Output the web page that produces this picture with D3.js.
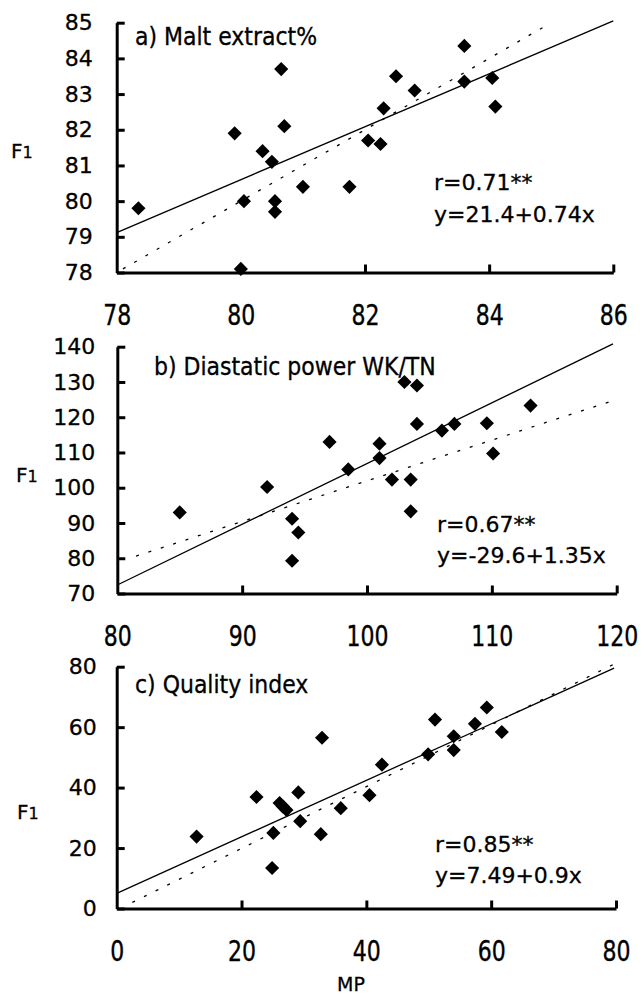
<!DOCTYPE html>
<html lang="en">
<head>
<meta charset="UTF-8">
<title>F1 vs MP</title>
<script src="https://cdn.jsdelivr.net/npm/d3@7"></script>
<style>
  body { margin: 0; background: #fff; }
  svg text { font-family: "DejaVu Sans", sans-serif; fill: #000; stroke: #000; stroke-width: 0.3px; }
</style>
</head>
<body>
<script>
// a) malt extract %
const maltX = [78.35, 79.9, 80.0, 80.05, 80.35, 80.5, 80.55, 80.55, 80.65, 80.7, 81.0, 81.75, 82.05, 82.25, 82.3, 82.5, 82.8, 83.6, 83.6, 84.05, 84.1];
const maltY = [79.8, 81.9, 78.1, 80.0, 81.4, 81.1, 80.0, 79.7, 83.7, 82.1, 80.4, 80.4, 81.7, 81.6, 82.6, 83.5, 83.1, 84.35, 83.35, 83.45, 82.65];
const maltXTicks = [78, 80, 82, 84, 86];
const maltYTicks = [78, 79, 80, 81, 82, 83, 84, 85];
const maltFit = [[78, 79.12], [86, 85.05]];
const maltOneToOne = [[78.1, 78.1], [85, 85]];

// b) diastatic power
const dpX = [85, 92, 94, 94.5, 94, 97, 98.5, 101, 101, 102, 103, 103.5, 103.5, 104, 104, 106, 107, 109.6, 110.1, 113.1];
const dpY = [93, 100.2, 91.2, 87.3, 79.3, 113, 105.2, 112.5, 108.4, 102.3, 130, 102.3, 93.3, 129, 118.1, 116.2, 118.1, 118.3, 109.7, 123.3];
const dpXTicks = [80, 90, 100, 110, 120];
const dpYTicks = [70, 80, 90, 100, 110, 120, 130, 140];
const dpFit = [[80, 72.4], [119.7, 140.8]];
const dpDotted = [[81.5, 80.6], [119.7, 124.7]];

// c) quality index
const qiX = [12.8, 22.4, 25.1, 24.9, 26.1, 26.6, 27.2, 29.1, 29.4, 32.9, 32.7, 35.9, 40.5, 42.5, 49.9, 51.0, 54.0, 54.0, 57.4, 59.3, 61.7];
const qiY = [23.8, 36.9, 25.0, 13.4, 34.9, 33.8, 32.6, 38.4, 28.9, 56.5, 24.6, 33.2, 37.5, 47.6, 51.0, 62.5, 52.4, 57.0, 61.1, 66.5, 58.4];
const qiXTicks = [0, 20, 40, 60, 80];
const qiYTicks = [0, 20, 40, 60, 80];
const qiFit = [[0, 5], [79.7, 79.5]];
const qiDotted = [[2.5, 2], [80.3, 81.5]];

const panels = [
  { xs: maltX, ys: maltY, xt: maltXTicks, yt: maltYTicks, fit: maltFit, dot: maltOneToOne,
    title: 'a) Malt extract%', r: 'r=0.71**', eq: 'y=21.4+0.74x',
    left: 116.7, right: 613.3, top: 22.7, bottom: 272.5, pad: 24,
    titlePos: [135, 45], rPos: [434, 190, 221.7], fPos: [11, 158] },
  { xs: dpX, ys: dpY, xt: dpXTicks, yt: dpYTicks, fit: dpFit, dot: dpDotted,
    title: 'b) Diastatic power WK/TN', r: 'r=0.67**', eq: 'y=-29.6+1.35x',
    left: 117.3, right: 616.7, top: 346.7, bottom: 593.5, pad: 22,
    titlePos: [154, 375], rPos: [437, 531.7, 563.3], fPos: [16, 482] },
  { xs: qiX, ys: qiY, xt: qiXTicks, yt: qiYTicks, fit: qiFit, dot: qiDotted,
    title: 'c) Quality index', r: 'r=0.85**', eq: 'y=7.49+0.9x',
    left: 116.7, right: 616, top: 666.7, bottom: 908.5, pad: 20,
    titlePos: [135, 693], rPos: [435, 851.7, 883.3], fPos: [17, 819] }
];

const svg = d3.select('body').append('svg')
  .attr('width', 642)
  .attr('height', 999);

const diamond = d3.symbol().type(d3.symbolSquare).size(100);

panels.forEach(p => {
  const x = d3.scaleLinear().domain(d3.extent(p.xt)).range([p.left, p.right]);
  const y = d3.scaleLinear().domain(d3.extent(p.yt)).range([p.bottom, p.top]);
  const g = svg.append('g');

  // axes, ticks point inward
  const yAxis = g.append('g')
    .attr('transform', `translate(${p.left},0)`)
    .call(d3.axisLeft(y).tickValues(p.yt).tickFormat(d3.format('d'))
      .tickSize(-8).tickSizeOuter(0).tickPadding(p.pad));
  yAxis.selectAll('text').style('font-size', '22px');

  const xAxis = g.append('g')
    .attr('transform', `translate(0,${p.bottom})`)
    .call(d3.axisBottom(x).tickValues(p.xt).tickFormat(d3.format('d'))
      .tickSize(-8).tickSizeOuter(0));
  xAxis.selectAll('.tick').filter((d, i) => i === 0).select('line').remove();
  xAxis.selectAll('text')
    .style('font-size', '22px')
    .attr('y', 0).attr('dy', 0)
    .attr('transform', 'translate(0,52) scale(1,1.25)');

  g.selectAll('.domain, .tick line')
    .attr('stroke', '#000')
    .attr('stroke-width', 3);

  const line = d3.line().x(d => x(d[0])).y(d => y(d[1]));

  g.append('path').datum(p.dot)
    .attr('d', line)
    .attr('fill', 'none')
    .attr('stroke', '#000')
    .attr('stroke-width', 1.3)
    .attr('stroke-dasharray', '3,10');

  g.append('path').datum(p.fit)
    .attr('d', line)
    .attr('fill', 'none')
    .attr('stroke', '#000')
    .attr('stroke-width', 1.3);

  g.selectAll('.pt')
    .data(p.xs.map((v, i) => [v, p.ys[i]]))
    .enter().append('path')
    .attr('class', 'pt')
    .attr('d', diamond)
    .attr('transform', d => `translate(${x(d[0])},${y(d[1])}) rotate(45)`)
    .attr('fill', '#000');

  g.append('text')
    .attr('transform', `translate(${p.titlePos[0]},${p.titlePos[1]}) scale(1,1.1)`)
    .style('font-size', '22px')
    .text(p.title);

  g.append('text')
    .attr('x', p.rPos[0]).attr('y', p.rPos[1])
    .style('font-size', '22px')
    .text(p.r);
  g.append('text')
    .attr('x', p.rPos[0]).attr('y', p.rPos[2])
    .style('font-size', '22px')
    .text(p.eq);

  const f = g.append('text')
    .attr('x', p.fPos[0]).attr('y', p.fPos[1])
    .style('font-size', '20px');
  f.append('tspan').text('F');
  f.append('tspan').style('font-size', '16px').text('1');
});

svg.append('text')
  .attr('x', 351).attr('y', 991)
  .attr('text-anchor', 'middle')
  .style('font-size', '19px')
  .text('MP');
</script>
</body>
</html>
